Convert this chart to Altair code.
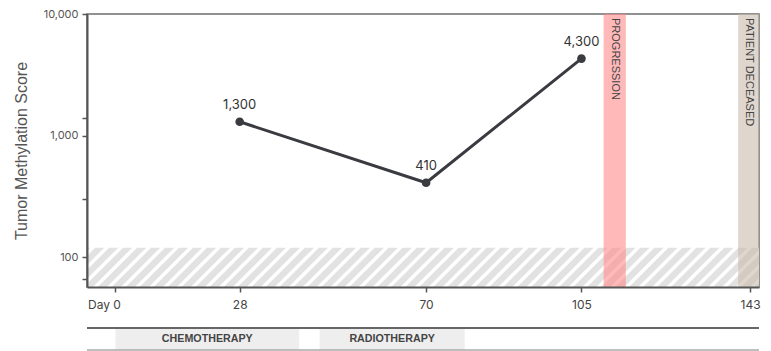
import altair as alt
import numpy as np
import pandas as pd

# Tumor methylation measurements
days = [28, 70, 105]
scores = [1300, 410, 4300]
score_labels = ["1,300", "410", "4,300"]

# Axis ticks
x_ticks = [0, 28, 70, 105, 143]
y_ticks = [10000, 1400, 1000, 300, 100, 66]

# Clinical events shown as vertical bands
event_names = ["PROGRESSION", "PATIENT DECEASED"]
event_start = [110, 140.3]
event_end = [115, 145]
event_colors = ["#ff8a8a", "#c9bcae"]

# Treatment periods
treat_names = ["CHEMOTHERAPY", "RADIOTHERAPY"]
treat_start = [0, 46]
treat_end = [41.4, 78.7]

# Limit-of-detection zone
lod_low, lod_high = 57, 120

X_DOMAIN = [-6.4, 145]
Y_DOMAIN = [57, 10000]
W, H_MAIN, H_TL = 672, 273, 22

NUM_FONT = "Inter"
TXT_FONT = "Liberation Sans"

x_scale = alt.Scale(domain=X_DOMAIN, nice=False, zero=False)
y_scale = alt.Scale(type="log", domain=Y_DOMAIN, nice=False)

points = pd.DataFrame({"day": days, "score": scores, "label": score_labels})
events = pd.DataFrame({"name": event_names, "start": event_start, "end": event_end,
                       "color": event_colors})
events["mid"] = (events["start"] + events["end"]) / 2
treat = pd.DataFrame({"name": treat_names, "start": treat_start, "end": treat_end})
treat["mid"] = (treat["start"] + treat["end"]) / 2

# Diagonal hatch texture for the detection-limit zone
hatch_step, hatch_run = 3.15, 10.75
hx = np.arange(-25, 150, hatch_step)
hatch = pd.DataFrame({"x": hx, "x2": hx + hatch_run, "y": 50, "y2": 123})

lod = pd.DataFrame({"lo": [lod_low], "hi": [lod_high]})

x_axis = alt.Axis(
    values=x_ticks,
    labelExpr="datum.value == 0 ? 'Day 0' : datum.label",
    labelAlign={"condition": {"test": "datum.value == 0", "value": "right"}, "value": "center"},
    labelOffset={"condition": {"test": "datum.value == 0", "value": 5}, "value": 0},
    title=None, grid=False, labelFont=NUM_FONT, labelFontSize=12, labelColor="#444",
    domainColor="#555", domainWidth=2, tickColor="#555", tickWidth=1.5, tickSize=5,
    labelPadding=7, zindex=1,
)
y_axis = alt.Axis(
    values=y_ticks,
    labelExpr="(datum.value == 10000 || datum.value == 1000 || datum.value == 100) ? format(datum.value, ',') : ''",
    title="Tumor Methylation Score", titleFont=TXT_FONT, titleFontSize=16,
    titleFontWeight="normal", titleColor="#555", titleX=-61, titleBaseline="alphabetic",
    grid=False, labelFont=NUM_FONT, labelFontSize=11, labelColor="#555",
    domainColor="#555", domainWidth=2, tickColor="#555", tickWidth=1.5, tickSize=5,
    labelPadding=4, zindex=1,
)

lod_rect = alt.Chart(lod).mark_rect(color="#e2e2e2").encode(
    y=alt.Y("lo:Q", scale=y_scale, axis=y_axis),
    y2="hi:Q",
)

hatch_lines = alt.Chart(hatch).mark_rule(color="white", strokeWidth=3.5, clip=True).encode(
    x=alt.X("x:Q", scale=x_scale, axis=x_axis),
    x2="x2:Q",
    y=alt.Y("y:Q", scale=y_scale),
    y2="y2:Q",
)

bands = alt.Chart(events).mark_rect(opacity=0.6).encode(
    x=alt.X("start:Q", scale=x_scale),
    x2="end:Q",
    color=alt.Color("color:N", scale=None),
)

band_text = alt.Chart(events).mark_text(
    angle=90, align="left", baseline="middle", font=TXT_FONT, fontSize=11, color="#444",
).encode(
    x=alt.X("mid:Q", scale=x_scale),
    y=alt.value(4),
    text="name:N",
)

line = alt.Chart(points).mark_line(color="#3a3b41", strokeWidth=3).encode(
    x=alt.X("day:Q", scale=x_scale),
    y=alt.Y("score:Q", scale=y_scale),
)
dots = alt.Chart(points).mark_circle(color="#3a3b41", opacity=1, size=75).encode(
    x=alt.X("day:Q", scale=x_scale),
    y=alt.Y("score:Q", scale=y_scale),
)
labels = alt.Chart(points).mark_text(
    dy=-17, font=NUM_FONT, fontSize=13, color="#333",
).encode(
    x=alt.X("day:Q", scale=x_scale),
    y=alt.Y("score:Q", scale=y_scale),
    text="label:N",
)

main = alt.layer(lod_rect, hatch_lines, bands, band_text, line, dots, labels).properties(
    width=W, height=H_MAIN,
)

tl_rects = alt.Chart(treat).mark_rect(color="#eeeeee").encode(
    x=alt.X("start:Q", scale=x_scale, axis=None),
    x2="end:Q",
)
tl_text = alt.Chart(treat).mark_text(
    font=TXT_FONT, fontSize=10.7, fontWeight="bold", color="#444",
).encode(
    x=alt.X("mid:Q", scale=x_scale, axis=None),
    text="name:N",
)
tl_top = alt.Chart(treat).mark_rule(color="#666", strokeWidth=2).encode(y=alt.value(0))
tl_bottom = alt.Chart(treat).mark_rule(color="#aaa", strokeWidth=1.2).encode(y=alt.value(H_TL))

timeline = alt.layer(tl_rects, tl_text, tl_top, tl_bottom).properties(
    width=W, height=H_TL, view=alt.ViewConfig(stroke=None),
)

chart = alt.vconcat(main, timeline, spacing=41, bounds="flush").properties(
    padding={"left": 12, "top": 7, "right": 5, "bottom": 0},
).configure_view(stroke="#6e6e6e", strokeWidth=1.5)

chart.save("out.html", embed_options={"renderer": "svg", "actions": False})
